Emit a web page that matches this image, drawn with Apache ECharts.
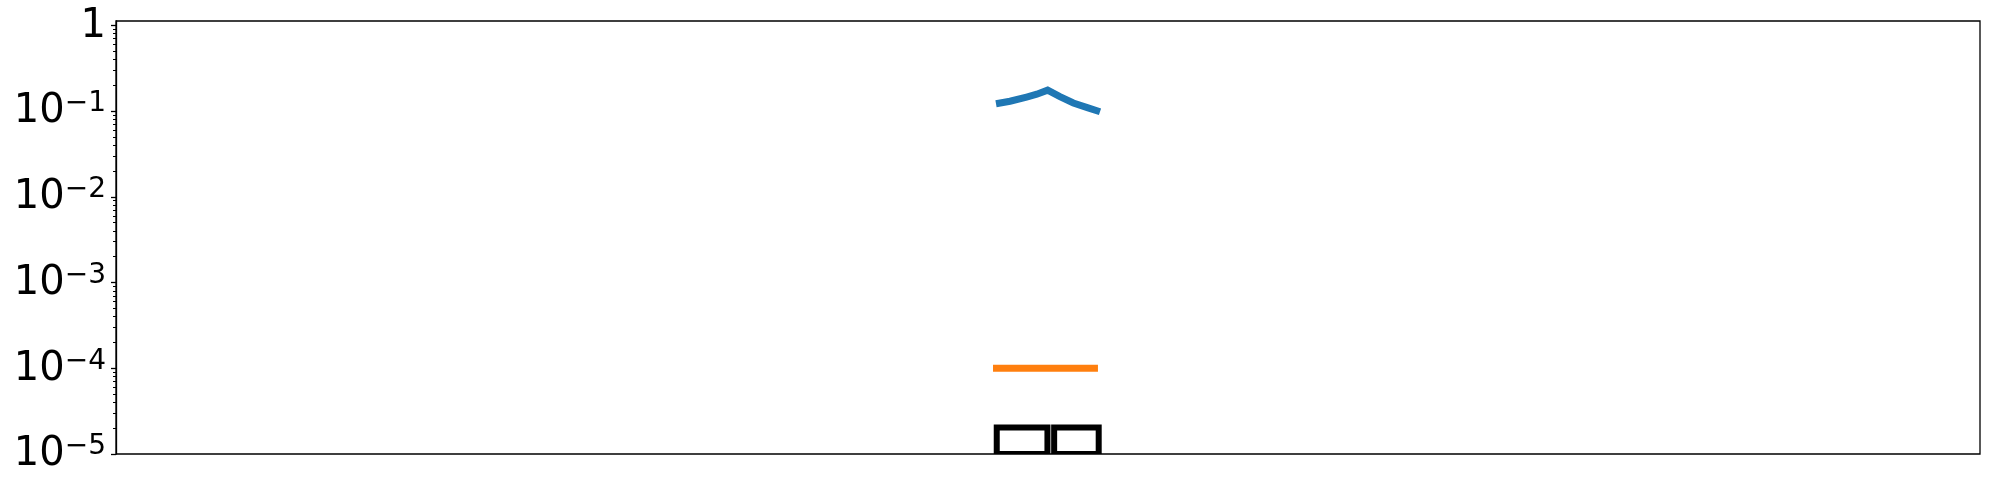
<!DOCTYPE html>
<html>
<head>
<meta charset="utf-8">
<script src="https://cdn.jsdelivr.net/npm/echarts@6/dist/echarts.min.js"></script>
<style>
html,body{margin:0;padding:0;background:#fff;}
#chart{width:1990px;height:489px;}
</style>
</head>
<body>
<div id="chart"></div>
<script>
// Blue curve (x, y)
const blueX = [47.21, 47.96, 48.85, 49.40, 49.98, 50.64, 51.36, 52.15, 52.79];
const blueY = [0.1216, 0.130, 0.1456, 0.157, 0.175, 0.147, 0.124, 0.109, 0.098];
// Orange flat line
const orangeX = [47.05, 52.68];
const orangeY = [1e-4, 1e-4];
// Two outlined bars: left edge, right edge, height
const barLeft = [47.25, 50.33];
const barRight = [49.97, 52.72];
const barHeight = [2.04e-5, 2.04e-5];
// Axis ranges and ticks
const xMin = 0, xMax = 100;
const yMin = 1e-5, yMax = 1.122;
const majorTicks = [1e-5, 1e-4, 1e-3, 1e-2, 1e-1, 1];
const minorTicks = [];
for (let e = -5; e <= -1; e++) {
  for (let m = 2; m <= 9; m++) minorTicks.push(m * Math.pow(10, e));
}

const chart = echarts.init(document.getElementById('chart'));
const zip = (xs, ys) => xs.map((x, i) => [x, ys[i]]);

function fmt(v) {
  const e = Math.round(Math.log10(v));
  if (Math.abs(Math.log10(v) - e) > 1e-6) return '';
  if (e === 0) return '{b|1}';
  return '{b|10}{s|\u2212' + (-e) + '}';
}

const option = {
  animation: false,
  backgroundColor: '#fff',
  grid: {
    left: 116, right: 10, top: 21, bottom: 35,
    show: true, borderColor: '#000', borderWidth: 1.3, backgroundColor: 'transparent'
  },
  xAxis: {
    type: 'value', min: xMin, max: xMax,
    axisLine: {show: false}, axisTick: {show: false}, axisLabel: {show: false}, splitLine: {show: false}
  },
  yAxis: [{
    type: 'log', logBase: 10, min: yMin, max: yMax,
    axisLine: {show: true, onZero: false, lineStyle: {color: '#000', width: 1.3}},
    axisTick: {show: true, length: 5, lineStyle: {color: '#000', width: 1.3}, customValues: majorTicks},
    axisLabel: {
      show: true, margin: 10, formatter: fmt, customValues: majorTicks,
      rich: {
        b: {fontSize: 40, fontFamily: 'DejaVu Sans', color: '#000', verticalAlign: 'bottom', lineHeight: 42},
        s: {fontSize: 28, fontFamily: 'DejaVu Sans', color: '#000', verticalAlign: 'top', lineHeight: 28}
      }
    },
    splitLine: {show: false}, minorTick: {show: false}
  }, {
    type: 'log', logBase: 10, min: yMin, max: yMax, position: 'left',
    axisLine: {show: false},
    axisTick: {show: true, length: 3, lineStyle: {color: '#000', width: 1}, customValues: minorTicks},
    axisLabel: {show: false},
    splitLine: {show: false}
  }],
  series: [{
    type: 'line', data: zip(blueX, blueY), yAxisIndex: 0,
    showSymbol: false, symbol: 'none',
    lineStyle: {color: '#1f77b4', width: 7, cap: 'butt', join: 'miter'}
  }, {
    type: 'line', data: zip(orangeX, orangeY), yAxisIndex: 0,
    showSymbol: false, symbol: 'none',
    lineStyle: {color: '#ff7f0e', width: 7, cap: 'butt'}
  }, {
    type: 'custom', yAxisIndex: 0, clip: true,
    data: barLeft.map((l, i) => [l, barRight[i], barHeight[i]]),
    renderItem: function (params, api) {
      const p0 = api.coord([api.value(0), api.value(2)]);
      const p1 = api.coord([api.value(1), yMin]);
      return {
        type: 'rect',
        shape: {x: p0[0], y: p0[1], width: p1[0] - p0[0], height: p1[1] - p0[1]},
        style: {fill: 'none', stroke: '#000', lineWidth: 6}
      };
    }
  }]
};
chart.setOption(option);
</script>
</body>
</html>
